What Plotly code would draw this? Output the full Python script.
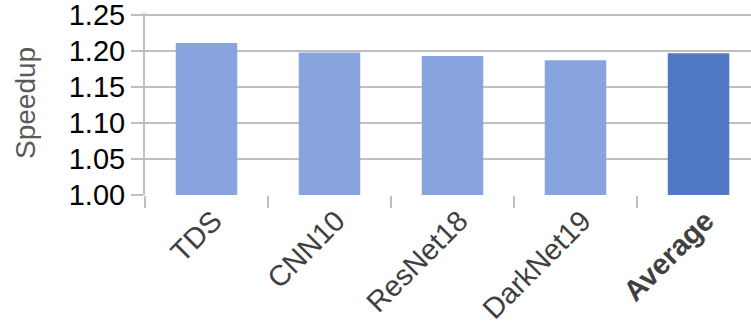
import plotly.graph_objects as go

# Speedup per network, plus the overall average
categories = ["TDS", "CNN10", "ResNet18", "DarkNet19", "Average"]
speedup = [1.211, 1.198, 1.193, 1.187, 1.197]
tick_labels = ["TDS", "CNN10", "ResNet18", "DarkNet19", "<b>Average</b>"]
y_ticks = [1.00, 1.05, 1.10, 1.15, 1.20, 1.25]
y_tick_text = ["1.00", "1.05", "1.10", "1.15", "1.20", "1.25"]

LIGHT = "#87A4DF"
DARK = "#5178C3"
GRID = "#BFBFBF"
FONT = "Liberation Sans, Arial, sans-serif"

# plot box geometry in pixels
PLOT_LEFT, PLOT_TOP, PLOT_BOTTOM, FIG_W, FIG_H = 145, 13, 195, 751, 322
PX_PER_UNIT = 720.0  # 0.05 speedup per 36 px
CAT_PX = 123.0       # width of one category slot

bar_colors = [DARK if c == "Average" else LIGHT for c in categories]

fig = go.Figure(
    go.Bar(
        x=categories,
        y=[v - 1.0 for v in speedup],
        base=1.0,
        width=0.5,
        marker=dict(color=bar_colors, line=dict(width=0)),
        hovertext=[f"{v:.3f}" for v in speedup],
    )
)

fig.update_layout(
    width=FIG_W,
    height=FIG_H,
    margin=dict(l=PLOT_LEFT, r=0, t=PLOT_TOP, b=FIG_H - PLOT_BOTTOM, pad=0),
    paper_bgcolor="white",
    plot_bgcolor="white",
    showlegend=False,
    font=dict(family=FONT, size=29, color="#000000"),
    annotations=[
        dict(
            text="Speedup",
            textangle=-90,
            xref="paper",
            yref="paper",
            x=(25 - PLOT_LEFT) / (FIG_W - PLOT_LEFT),
            y=(PLOT_BOTTOM - 103) / (PLOT_BOTTOM - PLOT_TOP),
            xanchor="center",
            yanchor="middle",
            showarrow=False,
            font=dict(family=FONT, size=28, color="#595959"),
        )
    ],
)

fig.update_xaxes(
    type="category",
    range=[-0.5, -0.5 + (FIG_W - PLOT_LEFT) / CAT_PX],
    tickmode="array",
    tickvals=categories,
    ticktext=tick_labels,
    tickangle=-45,
    tickfont=dict(family=FONT, size=29, color="#404040"),
    ticklabeloverflow="allow",
    ticklabelshift=7,
    ticklabelstandoff=2,
    showgrid=False,
    showline=False,
    ticks="outside",
    tickson="boundaries",
    ticklen=12,
    tickwidth=2,
    tickcolor=GRID,
    zeroline=False,
    automargin=False,
)

fig.update_yaxes(
    range=[1.0, 1.0 + (PLOT_BOTTOM - PLOT_TOP) / PX_PER_UNIT],
    tickmode="array",
    tickvals=y_ticks,
    ticktext=y_tick_text,
    tickfont=dict(family=FONT, size=29, color="#000000"),
    ticklabeloverflow="allow",
    showgrid=True,
    gridcolor=GRID,
    gridwidth=2,
    showline=True,
    linecolor=GRID,
    linewidth=2,
    ticks="outside",
    ticklen=12,
    tickwidth=2,
    tickcolor=GRID,
    zeroline=False,
    automargin=False,
)

fig.write_html("out.html")
